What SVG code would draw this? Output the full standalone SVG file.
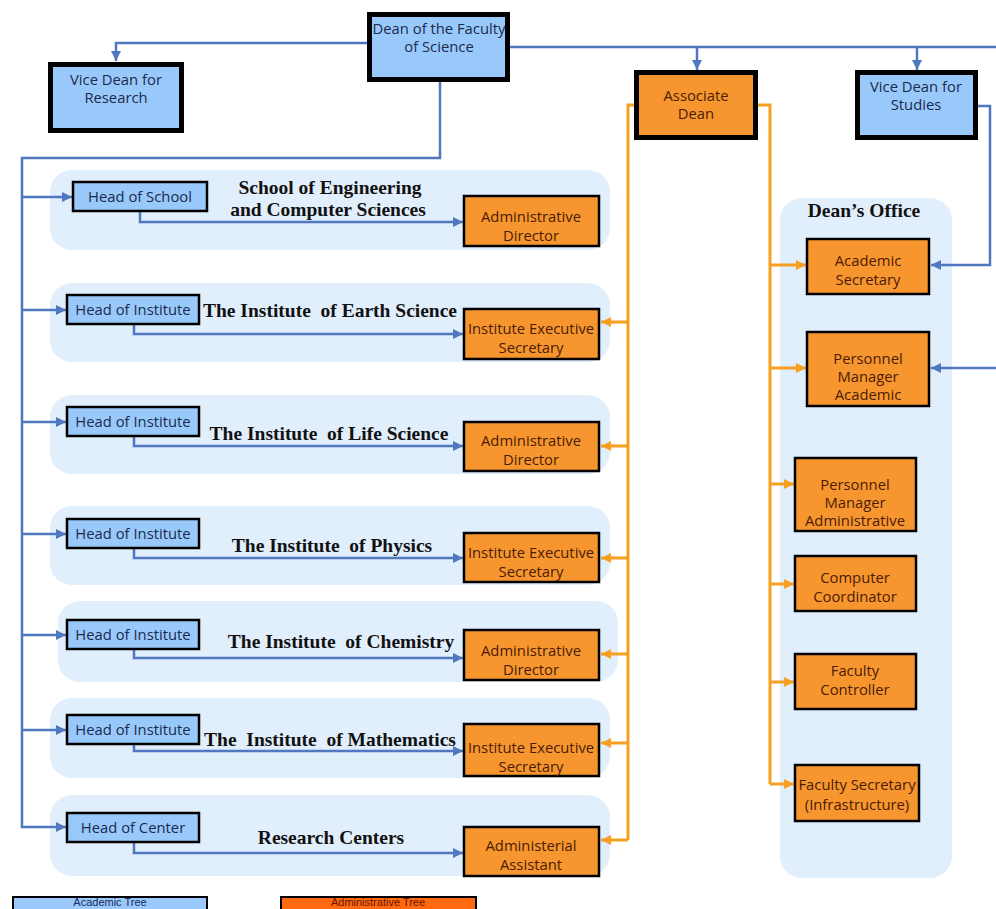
<svg xmlns="http://www.w3.org/2000/svg" width="996" height="909" viewBox="0 0 996 909">
<defs>
<marker id="ab" markerUnits="userSpaceOnUse" markerWidth="12" markerHeight="12" refX="10" refY="6" orient="auto"><path d="M0,1 L10,6 L0,11 Z" fill="#4f78c0"/></marker>
<marker id="ao" markerUnits="userSpaceOnUse" markerWidth="12" markerHeight="12" refX="10" refY="6" orient="auto"><path d="M0,1 L10,6 L0,11 Z" fill="#f5a020"/></marker>
<style>
.band{fill:#e1eefb}
.bl{fill:#99c9fa;stroke:#000;stroke-width:2.5}
.or{fill:#f7962f;stroke:#000;stroke-width:2.5}
.thick{stroke-width:5}
.t{font-family:"Open Sans","DejaVu Sans",sans-serif;font-size:14.8px;text-anchor:middle}
.tb{fill:#1b2a4e}
.to{fill:#4a1c05}
.h{font-family:"Liberation Serif",serif;font-weight:bold;font-size:19.5px;fill:#111;text-anchor:middle}
.cb{fill:none;stroke:#4f78c0;stroke-width:2.5}
.co{fill:none;stroke:#f5a020;stroke-width:3}
.lg{font-family:"Liberation Sans",Arial,sans-serif;font-size:11px;text-anchor:middle}
</style>
</defs>
<rect width="996" height="909" fill="#fff"/>
<g id="bands">
<rect class="band" x="50" y="170" width="560" height="80" rx="22"/>
<rect class="band" x="50" y="283" width="560" height="79" rx="22"/>
<rect class="band" x="50" y="395" width="560" height="79" rx="22"/>
<rect class="band" x="50" y="506" width="560" height="79" rx="22"/>
<rect class="band" x="58" y="601" width="560" height="81" rx="22"/>
<rect class="band" x="50" y="698" width="560" height="80" rx="22"/>
<rect class="band" x="50" y="795" width="560" height="81" rx="22"/>
<rect class="band" x="780" y="198" width="172" height="680" rx="22"/>
</g>
<g id="connectors">
<path class="cb" d="M367,43 H116 V61" marker-end="url(#ab)"/>
<path class="cb" d="M510,47 H996"/>
<path class="cb" d="M697,47 V70" marker-end="url(#ab)"/>
<path class="cb" d="M917,47 V70" marker-end="url(#ab)"/>
<path class="cb" d="M978,106 H990 V265 H931" marker-end="url(#ab)"/>
<path class="cb" d="M996,368 H931" marker-end="url(#ab)"/>
<path class="cb" d="M440,82 V158 H22 V827 H66" marker-end="url(#ab)"/>
<path class="cb" d="M22,197 H72" marker-end="url(#ab)"/>
<path class="cb" d="M22,310 H66" marker-end="url(#ab)"/>
<path class="cb" d="M22,422 H66" marker-end="url(#ab)"/>
<path class="cb" d="M22,534 H66" marker-end="url(#ab)"/>
<path class="cb" d="M22,635 H66" marker-end="url(#ab)"/>
<path class="cb" d="M22,730 H66" marker-end="url(#ab)"/>
<path class="cb" d="M140,212 V222 H463" marker-end="url(#ab)"/>
<path class="cb" d="M134,325 V334 H463" marker-end="url(#ab)"/>
<path class="cb" d="M134,437 V446 H463" marker-end="url(#ab)"/>
<path class="cb" d="M134,549 V558 H463" marker-end="url(#ab)"/>
<path class="cb" d="M134,650 V658 H463" marker-end="url(#ab)"/>
<path class="cb" d="M134,745 V751 H463" marker-end="url(#ab)"/>
<path class="cb" d="M134,843 V853 H463" marker-end="url(#ab)"/>
<path class="co" d="M634,105 H628 V840"/>
<path class="co" d="M628,322 H601" marker-end="url(#ao)"/>
<path class="co" d="M628,446 H601" marker-end="url(#ao)"/>
<path class="co" d="M628,558 H601" marker-end="url(#ao)"/>
<path class="co" d="M628,654 H601" marker-end="url(#ao)"/>
<path class="co" d="M628,743 H601" marker-end="url(#ao)"/>
<path class="co" d="M628,840 H601" marker-end="url(#ao)"/>
<path class="co" d="M758,105 H770 V784"/>
<path class="co" d="M770,265 H806" marker-end="url(#ao)"/>
<path class="co" d="M770,368 H806" marker-end="url(#ao)"/>
<path class="co" d="M770,484 H794" marker-end="url(#ao)"/>
<path class="co" d="M770,584 H794" marker-end="url(#ao)"/>
<path class="co" d="M770,682 H794" marker-end="url(#ao)"/>
<path class="co" d="M770,784 H794" marker-end="url(#ao)"/>
</g>
<g id="dean"><rect class="bl thick" x="369.5" y="14.5" width="138" height="65"/><text class="t tb" x="439" y="34">Dean of the Faculty</text><text class="t tb" x="439" y="52">of Science</text></g>
<g id="vd-research"><rect class="bl thick" x="50.5" y="64.5" width="131" height="66"/><text class="t tb" x="116" y="85">Vice Dean for</text><text class="t tb" x="116" y="103">Research</text></g>
<g id="assoc-dean"><rect class="or thick" x="636.5" y="72.5" width="119" height="65"/><text class="t to" x="696" y="101">Associate</text><text class="t to" x="696" y="119">Dean</text></g>
<g id="vd-studies"><rect class="bl thick" x="857.5" y="72.5" width="118" height="65"/><text class="t tb" x="916" y="92">Vice Dean for</text><text class="t tb" x="916" y="110">Studies</text></g>

<g id="head-school"><rect class="bl" x="73" y="182" width="134" height="29"/><text class="t tb" x="140" y="202">Head of School</text></g>
<g id="head-earth"><rect class="bl" x="67" y="295" width="132" height="29"/><text class="t tb" x="133" y="315">Head of Institute</text></g>
<g id="head-life"><rect class="bl" x="67" y="407" width="132" height="29"/><text class="t tb" x="133" y="427">Head of Institute</text></g>
<g id="head-physics"><rect class="bl" x="67" y="519" width="132" height="29"/><text class="t tb" x="133" y="539">Head of Institute</text></g>
<g id="head-chem"><rect class="bl" x="67" y="620" width="132" height="29"/><text class="t tb" x="133" y="640">Head of Institute</text></g>
<g id="head-math"><rect class="bl" x="67" y="715" width="132" height="29"/><text class="t tb" x="133" y="735">Head of Institute</text></g>
<g id="head-center"><rect class="bl" x="67" y="813" width="132" height="29"/><text class="t tb" x="133" y="833">Head of Center</text></g>

<g id="title-school"><text class="h" x="330" y="194">School of Engineering</text><text class="h" x="328" y="216">and Computer Sciences</text></g>
<g id="title-earth"><text class="h" x="330" y="317" xml:space="preserve">The Institute  of Earth Science</text></g>
<g id="title-life"><text class="h" x="329" y="440" xml:space="preserve">The Institute  of Life Science</text></g>
<g id="title-physics"><text class="h" x="332" y="552" xml:space="preserve">The Institute  of Physics</text></g>
<g id="title-chem"><text class="h" x="341" y="648" xml:space="preserve">The Institute  of Chemistry</text></g>
<g id="title-math"><text class="h" x="330" y="746" xml:space="preserve">The  Institute  of Mathematics</text></g>
<g id="title-centers"><text class="h" x="331" y="844">Research Centers</text></g>
<g id="title-office"><text class="h" x="864" y="217">Dean’s Office</text></g>

<g id="ad-school"><rect class="or" x="464" y="196" width="135" height="50"/><text class="t to" x="531" y="222">Administrative</text><text class="t to" x="531" y="241">Director</text></g>
<g id="ies-earth"><rect class="or" x="464" y="309" width="135" height="50"/><text class="t to" x="531" y="334">Institute Executive</text><text class="t to" x="531" y="353">Secretary</text></g>
<g id="ad-life"><rect class="or" x="464" y="422" width="135" height="49"/><text class="t to" x="531" y="446">Administrative</text><text class="t to" x="531" y="465">Director</text></g>
<g id="ies-physics"><rect class="or" x="464" y="533" width="135" height="49"/><text class="t to" x="531" y="558">Institute Executive</text><text class="t to" x="531" y="577">Secretary</text></g>
<g id="ad-chem"><rect class="or" x="464" y="630" width="135" height="50"/><text class="t to" x="531" y="656">Administrative</text><text class="t to" x="531" y="675">Director</text></g>
<g id="ies-math"><rect class="or" x="464" y="724" width="135" height="52"/><text class="t to" x="531" y="753">Institute Executive</text><text class="t to" x="531" y="772">Secretary</text></g>
<g id="aa-center"><rect class="or" x="464" y="827" width="135" height="49"/><text class="t to" x="531" y="851">Administerial</text><text class="t to" x="531" y="870">Assistant</text></g>

<g id="academic-secretary"><rect class="or" x="807" y="239" width="122" height="55"/><text class="t to" x="868" y="266">Academic</text><text class="t to" x="868" y="285">Secretary</text></g>
<g id="pm-academic"><rect class="or" x="807" y="332" width="122" height="74"/><text class="t to" x="868" y="364">Personnel</text><text class="t to" x="868" y="382">Manager</text><text class="t to" x="868" y="400">Academic</text></g>
<g id="pm-admin"><rect class="or" x="795" y="458" width="121" height="73"/><text class="t to" x="855" y="490">Personnel</text><text class="t to" x="855" y="508">Manager</text><text class="t to" x="855" y="526">Administrative</text></g>
<g id="computer-coord"><rect class="or" x="795" y="556" width="121" height="55"/><text class="t to" x="855" y="583">Computer</text><text class="t to" x="855" y="602">Coordinator</text></g>
<g id="faculty-controller"><rect class="or" x="795" y="654" width="121" height="55"/><text class="t to" x="855" y="676">Faculty</text><text class="t to" x="855" y="695">Controller</text></g>
<g id="faculty-secretary"><rect class="or" x="795" y="765" width="124" height="56"/><text class="t to" x="857" y="790">Faculty Secretary</text><text class="t to" x="857" y="810">(Infrastructure)</text></g>

<g id="legend-academic"><rect x="13" y="897" width="194" height="20" fill="#99c9fa" stroke="#000" stroke-width="2"/><text class="lg" x="110" y="906" fill="#1b2a60">Academic Tree</text></g>
<g id="legend-admin"><rect x="281" y="897" width="195" height="20" fill="#ff6a10" stroke="#000" stroke-width="2"/><text class="lg" x="378" y="906" fill="#6a1500">Administrative Tree</text></g>
</svg>
